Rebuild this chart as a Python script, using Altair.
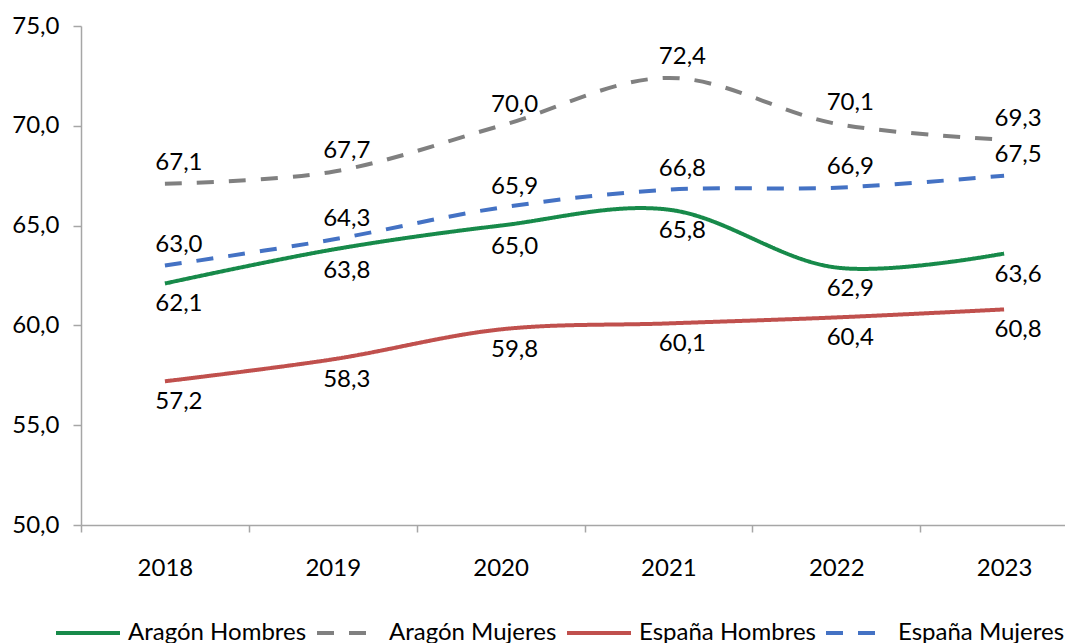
import altair as alt
import pandas as pd

years = ["2018", "2019", "2020", "2021", "2022", "2023"]
aragon_hombres = [62.1, 63.8, 65.0, 65.8, 62.9, 63.6]
aragon_mujeres = [67.1, 67.7, 70.0, 72.4, 70.1, 69.3]
espana_hombres = [57.2, 58.3, 59.8, 60.1, 60.4, 60.8]
espana_mujeres = [63.0, 64.3, 65.9, 66.8, 66.9, 67.5]

series_names = ["Aragón Hombres", "Aragón Mujeres", "España Hombres", "España Mujeres"]
series_vals = [aragon_hombres, aragon_mujeres, espana_hombres, espana_mujeres]
label_side = ["below", "above", "below", "above"]
colors = ["#178a4a", "#808080", "#c0504d", "#4472c4"]
dashes = [[1, 0], [17, 15], [1, 0], [17, 15]]

rows = []
for name, vals, side in zip(series_names, series_vals, label_side):
    for y, v in zip(years, vals):
        rows.append({"year": y, "value": v, "serie": name, "side": side,
                     "label": f"{v:.1f}".replace(".", ",")})
df = pd.DataFrame(rows)

FONT = "Lato"

x_enc = alt.X("year:O", title=None, sort=years,
              scale=alt.Scale(range=[0, 1007], paddingInner=0, paddingOuter=0),
              axis=alt.Axis(labelAngle=0, labelFontSize=24, labelFont=FONT, labelColor="#000000",
                            tickBand="extent", tickSize=7, tickColor="#a6a6a6", domainColor="#a6a6a6",
                            domainWidth=1.5, tickWidth=1.5, labelPadding=24, grid=False))
y_enc = alt.Y("value:Q", title=None,
              scale=alt.Scale(domain=[50, 75], nice=False, zero=False),
              axis=alt.Axis(values=[50, 55, 60, 65, 70, 75], labelFontSize=24, labelFont=FONT,
                            labelColor="#000000", labelExpr="replace(format(datum.value, '.1f'), '.', ',')",
                            tickSize=8, tickColor="#a6a6a6", domainColor="#a6a6a6",
                            domainWidth=1.5, tickWidth=1.5, labelPadding=14, grid=False))

legend = alt.Legend(title=None, orient="none", direction="horizontal", columns=4,
                    legendX=-27, legendY=573, symbolType="stroke",
                    symbolSize=4096, symbolStrokeWidth=4, labelFontSize=24,
                    labelFont=FONT, labelColor="#000000", labelOffset=6,
                    columnPadding=2, padding=0, labelLimit=400)

base = alt.Chart(df)

lines = base.mark_line(interpolate="catmull-rom", strokeWidth=4, strokeCap="butt").encode(
    x=x_enc, y=y_enc,
    color=alt.Color("serie:N", sort=series_names,
                    scale=alt.Scale(domain=series_names, range=colors), legend=legend),
    strokeDash=alt.StrokeDash("serie:N", sort=series_names,
                              scale=alt.Scale(domain=series_names, range=dashes), legend=legend),
)

above = base.transform_filter(alt.datum.side == "above").mark_text(
    fontSize=24, font=FONT, color="#000000", dx=14, dy=-21, baseline="middle").encode(
    x=alt.X("year:O", sort=years), y="value:Q", text="label:N")
below = base.transform_filter(alt.datum.side == "below").mark_text(
    fontSize=24, font=FONT, color="#000000", dx=14, dy=21, baseline="middle").encode(
    x=alt.X("year:O", sort=years), y="value:Q", text="label:N")

chart = alt.layer(lines, above, below).properties(
    width=984, height=499,
    autosize=alt.AutoSizeParams(type="none"),
    padding={"left": 73, "top": 18, "right": 0, "bottom": 118},
).configure_view(stroke=None)

chart.save("out.html", embed_options={"renderer": "svg", "actions": False})
